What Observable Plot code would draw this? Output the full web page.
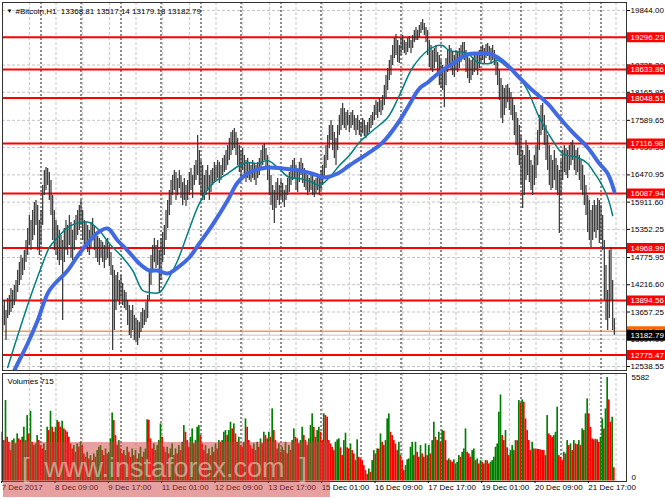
<!DOCTYPE html>
<html><head><meta charset="utf-8">
<script src="https://cdn.jsdelivr.net/npm/d3@7"></script>
<script src="https://cdn.jsdelivr.net/npm/@observablehq/plot@0.6"></script>
<style>
body{margin:0;background:#fff;}
#wrap{position:relative;width:665px;height:499px;overflow:hidden;background:#fff;font-family:"Liberation Sans",Arial,sans-serif;}
#price,#vol{position:absolute;left:0;}
#price{top:0;} #vol{top:371px;}
#band{position:absolute;left:3px;top:442px;width:327px;height:55px;background:rgba(204,61,61,0.49);}
#wm{position:absolute;left:22px;top:455px;font-size:27px;line-height:27px;white-space:pre;color:rgba(236,240,228,0.5);font-family:"Liberation Sans",Arial,sans-serif;}
</style></head>
<body>
<div id="wrap"><div id="price"></div><div id="vol"></div><div id="band"></div><div id="wm">[  www.instaforex.com  ]</div></div>
<script>
// ---- data (hour index 1 = 7 Dec 2017 01:00) ----
const barHigh = [
13790,13893,13688,13934,13996,14139,14098,14201,14304,14509,
14673,14816,14755,14919,15124,15371,15637,15535,15740,15904,
15945,15842,15535,15740,16253,16561,16622,16602,16520,16356,
16048,15740,15535,15432,15330,15227,15124,15371,15535,15432,
15637,15494,15330,15535,15637,15740,15842,15945,15740,15535,
15494,15432,15330,15494,15576,15432,15289,15206,15165,15124,
15083,15022,15124,15165,15022,14878,14612,14509,14406,14468,
14304,14406,14242,14098,14057,13893,13790,13688,13790,13585,
13524,13483,13442,13647,13729,13688,13852,13996,14509,14816,
15022,15165,15022,15124,14919,15165,15289,15432,15740,15945,
16150,16356,16458,16561,16520,16397,16561,16458,16315,16397,
16253,16356,16520,16602,16458,16663,16766,17279,16971,16766,
16663,16458,16561,16663,16458,16561,16602,16725,16663,16766,
16725,16663,16807,16868,16971,17073,17217,17340,17382,17423,
17340,17217,17073,16971,17012,16868,16766,16807,16725,16663,
16766,16704,16663,16725,16807,16971,17073,17114,17012,16868,
16663,16458,16253,16150,16315,16397,16253,16356,16294,16150,
16253,16397,16520,16663,16766,16807,16663,16561,16725,16807,
16704,16602,16520,16458,16397,16520,16458,16356,16397,16458,
16397,16561,16663,16868,17073,17279,17484,17587,17484,17340,
17217,17484,17689,17833,17935,17833,17751,17792,17689,17751,
17792,17689,17628,17689,17587,17546,17628,17587,17484,17546,
17628,17689,17751,17894,17997,17956,18038,17997,18100,18305,
18510,18654,18818,18920,19125,19269,19351,19228,19125,19269,
19331,19228,19187,19269,19310,19228,19331,19434,19495,19434,
19536,19598,19659,19577,19495,19434,19228,19125,19023,19064,
19125,18982,18920,18818,18715,18613,18859,19023,19125,19064,
18982,18920,19023,18982,19064,19125,19187,19187,19023,18920,
18859,18818,18879,18920,18982,18920,19023,19084,19125,19064,
19146,19166,19105,19064,19125,19023,18920,18777,18613,18449,
18305,18243,18305,18326,18243,18161,18038,17894,17751,17628,
17484,17279,16971,16868,17176,17073,16971,16766,16663,16868,
17073,17382,17689,17894,17935,17689,17484,17279,17073,16868,
16766,16971,16807,16663,16561,16766,16971,17073,17012,16971,
17073,17135,17176,17073,16971,17012,16868,16766,16663,16458,
16253,16048,15945,15740,15842,15945,15842,15986,15945,15842,
15637,15124,14612,14098,14919,14981,14304,13517.14];
const barLow = [
13278,13380,13072,13524,13585,13647,13729,13790,13893,14057,
14201,14304,14406,14509,14673,14816,15022,14919,15124,15227,
15432,14919,14816,15022,15432,16048,16150,16253,15945,15637,
15124,14919,14816,14714,14612,14714,13483,14673,14919,14816,
15022,14755,14714,14919,15124,15227,15330,15432,15124,14919,
15022,14878,14816,14960,15124,14919,14755,14673,14612,14755,
14673,14550,14714,14755,14591,14406,12867,13278,13688,13893,
13790,13934,13790,13729,13688,13380,13175,13113,13278,13072,
13031,12970,13113,13237,13319,13380,13442,13524,13893,14201,
14509,14673,14550,14612,14037,14304,14673,14816,15124,15371,
15637,15842,16048,16150,15945,16048,16192,15986,15842,15945,
15822,15945,16048,16150,15986,16253,16356,16458,16253,16048,
15945,15945,16048,16150,15945,16109,16253,16315,16356,16397,
16294,16356,16458,16520,16561,16663,16766,16868,16971,17012,
16868,16663,16520,16356,16561,16397,16315,16397,16356,16315,
16397,16356,16253,16397,16458,16561,16663,16766,16602,16356,
16048,15842,15740,15473,15781,15945,15842,15986,15904,15802,
15945,16048,16109,16253,16356,16397,16150,16109,16315,16458,
16294,16212,16150,16048,16109,16150,16048,16007,16089,16150,
16048,16150,16253,16397,16602,16766,17012,17176,16971,16807,
16663,16971,17279,17382,17484,17423,17382,17484,17340,17423,
17484,17382,17279,17382,17279,17238,17320,17258,17217,17279,
17340,17423,17484,17587,17689,17628,17751,17689,17792,17894,
18038,18202,18408,18510,18715,18859,18920,18777,18756,18920,
19023,18961,18920,18982,19064,18961,19064,19187,19228,19228,
19290,19372,19434,19331,19187,18920,18674,18613,18572,18654,
18777,18510,18305,18243,18202,17853,18305,18572,18715,18613,
18510,18469,18613,18572,18654,18777,18859,18818,18572,18449,
18346,18408,18510,18572,18613,18510,18654,18777,18818,18756,
18859,18900,18818,18736,18818,18715,18510,18305,17997,17628,
17525,17689,17833,17956,17792,17689,17587,17279,17073,16868,
16663,16253,15781,16048,16356,16458,16315,16150,16048,16253,
16397,16663,16971,17279,17382,17073,16766,16561,16253,16150,
16192,16356,16150,16048,15268,16048,16356,16520,16458,16397,
16561,16663,16766,16561,16458,16520,16356,16150,16048,15842,
15637,15289,15124,14981,15124,15289,15165,15330,15063,15124,
14919,13893,13483,13278,13524,13893,13278,13179.18];
const volumes = [
2630,2180,4340,2360,2090,1640,2180,2270,2000,2540,
2270,2180,2360,2900,2180,3530,2540,3760,2090,1910,
2000,2450,2180,1910,1730,2000,1640,2900,2720,3760,
2900,2630,2900,3260,3170,2900,3225,2810,2720,2630,
2360,2000,1730,1910,1550,2000,1820,2090,1910,1460,
1280,1550,1190,1370,1100,1460,1280,1640,1820,1910,
1640,1370,1730,1460,1550,2270,3670,3260,2450,1910,
2180,1730,1460,1640,1370,1820,1550,1280,1730,1370,
1640,1190,1460,1820,1280,1550,1730,3300,3280,2270,
1730,2000,1640,1910,2180,3080,2360,1820,1550,1820,
1460,1730,2000,1370,1730,1460,1910,1640,2090,2990,
2630,2180,1820,2360,2810,2000,2180,2900,2990,2450,
2000,1640,1910,1460,1730,1370,1820,1550,2000,1730,
2180,2090,2180,2630,2720,2450,2720,3170,2810,3080,
2540,2090,2360,1910,1820,2090,3350,2900,2180,1910,
1730,2000,1640,2090,1820,2270,2000,2630,2450,2270,
2630,2360,3890,2720,2180,1730,2000,1550,1820,1640,
2090,1460,1910,1640,2180,2810,2360,2270,2000,2180,
2900,2450,2180,1910,2270,2990,3620,2900,2360,2720,
2900,2630,2180,3620,3530,3440,2180,2000,1820,1640,
2090,2220,2270,1790,1370,2180,2580,1790,1730,2000,
1640,1460,1100,2220,1280,1190,1100,830,560,350,
650,470,1100,1640,1460,1730,1720,2540,2090,1910,
2180,3350,3620,2630,2450,2180,2000,1640,2090,1370,
1100,560,830,1140,1190,1820,2090,1370,2090,1550,
1280,1910,1460,1280,2000,1370,1910,1460,2180,3170,
2360,2180,2630,2090,2720,2690,2180,1100,1190,1100,
1010,1140,920,1010,1370,1280,1550,1730,2810,1550,
1460,1280,1640,1730,1100,1190,920,1100,1010,920,
1100,1090,920,1010,1100,1280,1820,2000,3710,4640,
2450,2180,2720,1790,1370,1640,1910,1640,2180,2170,
4340,4195,4375,4250,3350,2720,2180,1640,2090,1730,
1720,1710,1700,1680,1650,1640,1370,3530,2540,2450,
2360,2450,2630,3980,1370,1280,1100,1550,1460,2180,
1910,2000,1640,2180,2000,1960,2180,1910,2810,2720,
3620,4430,3620,2900,2270,2220,2250,2220,2090,2360,
3350,2810,3890,5582,4375,3170,3440,715];

const fastMAHours  = [4,11,19,25,29,34,40,47,53,59,65,73,79,85,89,95,100,106,112,119,127,136,143,148,154,160,166,173,179,187,191,197,203,209,215,223,232,239,247,256,262,265,269,280,286,293,298,304,310,316,323,331,337,346,352,355,359,364,367];
const fastMAValues = [12518,13278,14098,14652,14981,15186,15391,15494,15494,15330,15063,14776,14509,14098,14057,14057,14304,14714,15268,15883,16294,16499,16663,16725,16704,16766,16622,16417,16397,16315,16253,16417,16663,16868,17135,17382,17648,18100,18674,19023,19125,19125,19023,18961,18777,18756,18818,18674,18510,18202,17648,17176,16909,16827,16704,16561,16356,16007,15637];
const slowMAHours  = [1,8,16,22,29,40,47,55,59,64,70,76,83,89,94,100,106,113,119,127,136,142,149,160,169,179,190,193,202,209,220,229,238,244,251,256,263,271,280,286,293,298,304,311,319,328,335,343,352,359,364,368];
const slowMAValues = [11900,12457,13011,13483,14098,14509,14857,15186,15309,15371,15124,14919,14652,14509,14509,14447,14570,14776,15063,15452,15945,16315,16520,16622,16602,16561,16458,16417,16499,16663,16909,17135,17525,17853,18243,18366,18572,18756,18941,18961,18961,18879,18715,18469,18202,17935,17648,17341,17033,16704,16499,16130];

const levelPrices = [19296.23,18633.86,18048.51,17116.98,16087.94,14968.99,13894.56,12775.47];
const askPrice = 13263.79;
const bidPrice = 13182.79;
const priceGridTicks = [19844.00,19284.65,18725.30,18165.95,17589.65,17030.30,16470.95,15911.60,15352.25,14775.95,14216.60,13657.25,13097.90,12538.55];
const priceTickLabels = [19844.00,18725.30,18165.95,17589.65,17030.30,16470.95,15911.60,15352.25,14775.95,14216.60,13657.25,13097.90,12538.55];
const dateLabels = ["7 Dec 2017","8 Dec 09:00","9 Dec 17:00","11 Dec 01:00","12 Dec 09:00","13 Dec 17:00","15 Dec 01:00","16 Dec 09:00","17 Dec 17:00","19 Dec 01:00","20 Dec 09:00","21 Dec 17:00"];
const dateLabelHours = [1,33,65,97,129,161,193,225,257,289,321,353];
const daySeparatorHours = [24,48,72,96,120,144,168,192,216,240,264,288,312,336,360];
const gridHours = [1,17,33,49,65,81,97,113,129,145,161,177,193,209,225,241,257,273,289,305,321,337,353,369];
const volumeTicks = [5582, 0];
const titleText = "#Bitcoin,H1  13368.81 13517.14 13179.18 13182.79";
const volumeTitle = "Volumes 715";

// ---- build ----
const bars = barHigh.map((hi, i) => ({h: i + 1, hi, lo: barLow[i], v: volumes[i],
  col: (i === 0 || volumes[i] > volumes[i - 1]) ? "#008000" : "#ff0000"}));
const fastMA = fastMAHours.map((h, i) => ({h, p: fastMAValues[i]}));
const slowMA = slowMAHours.map((h, i) => ({h, p: slowMAValues[i]}));
const xDomain = [0.9, 375.3];
const font = "Liberation Sans, Arial, sans-serif";

const price = Plot.plot({
  width: 665, height: 371, marginLeft: 2, marginRight: 39, marginTop: 2, marginBottom: 1,
  x: {domain: xDomain, axis: null},
  y: {domain: [12457, 20008], axis: null},
  style: {fontFamily: font, fontSize: "8px", background: "white", color: "black", overflow: "hidden"},
  marks: [
    Plot.ruleY(priceGridTicks, {stroke: "#c4c4c4", strokeDasharray: "3,2"}),
    Plot.ruleX(gridHours, {stroke: "#c4c4c4", strokeDasharray: "3,2"}),
    Plot.ruleX(daySeparatorHours, {stroke: "#1a1a1a", strokeDasharray: "2,2"}),
    Plot.ruleY(levelPrices, {stroke: "#ff0000", strokeWidth: 2}),
    Plot.ruleY([askPrice], {stroke: "#ff6600"}),
    Plot.ruleY([bidPrice], {stroke: "#c0c0c0"}),
    Plot.ruleX(bars, {x: "h", y1: "lo", y2: "hi", stroke: "#333333", strokeWidth: 1.2}),
    Plot.line(fastMA, {x: "h", y: "p", stroke: "#008080", strokeWidth: 1.5, curve: "catmull-rom", clip: true}),
    Plot.line(slowMA, {x: "h", y: "p", stroke: "#4169e1", strokeWidth: 4, curve: "catmull-rom", clip: true}),
    Plot.frame({stroke: "#333333"}),
    Plot.axisY({anchor: "right", ticks: priceTickLabels, tickFormat: d => d.toFixed(2), tickSize: 3, tickPadding: 1, textAnchor: "start", fill: "black"}),
    Plot.ruleY(levelPrices, {stroke: "#ff0000", strokeWidth: 10, dx: 625}),
    Plot.text(levelPrices, {y: d => d, text: d => d.toFixed(2), frameAnchor: "right", textAnchor: "start", dx: 4, fill: "white"}),
    Plot.ruleY([askPrice], {stroke: "#ff6600", strokeWidth: 10, dx: 625}),
    Plot.text([askPrice], {y: d => d, text: d => d.toFixed(2), frameAnchor: "right", textAnchor: "start", dx: 4, fill: "white"}),
    Plot.ruleY([bidPrice], {stroke: "#000000", strokeWidth: 11, dx: 625}),
    Plot.text([bidPrice], {y: d => d, text: d => d.toFixed(2), frameAnchor: "right", textAnchor: "start", dx: 4, fill: "white"}),
    Plot.text(["\u25BC"], {text: d => d, frameAnchor: "top-left", dx: 4, dy: 6, fontSize: 6, textAnchor: "start", fill: "black"}),
    Plot.text([titleText], {text: d => d, frameAnchor: "top-left", dx: 13, dy: 6, textAnchor: "start", fill: "black"})
  ]
});
document.getElementById("price").appendChild(price);

const vol = Plot.plot({
  width: 665, height: 128, marginLeft: 2, marginRight: 39, marginTop: 2, marginBottom: 18,
  x: {domain: xDomain, axis: null},
  y: {domain: [-27, 5798], axis: null},
  color: {type: "identity"},
  style: {fontFamily: font, fontSize: "8px", background: "white", color: "black", overflow: "hidden"},
  marks: [
    Plot.ruleX(gridHours, {stroke: "#c4c4c4", strokeDasharray: "3,2"}),
    Plot.ruleX(daySeparatorHours, {stroke: "#1a1a1a", strokeDasharray: "2,2"}),
    Plot.rectY(bars, {x1: d => d.h - 0.5, x2: d => d.h + 0.5, y1: 0, y2: "v", fill: "col"}),
    Plot.frame({stroke: "#333333"}),
    Plot.axisX({anchor: "bottom", ticks: dateLabelHours, tickFormat: (d, i) => dateLabels[i], tickSize: 2, tickPadding: 1, textAnchor: "start", dx: -1, fill: "black"}),
    Plot.text([volumeTicks[0]], {y: d => d, text: d => String(d), frameAnchor: "right", textAnchor: "start", dx: 5, fill: "black"}),
    Plot.text([volumeTicks[1]], {y: d => d, text: d => String(d), frameAnchor: "right", textAnchor: "start", dx: 5, dy: -4, fill: "black"}),
    Plot.text([volumeTitle], {text: d => d, frameAnchor: "top-left", dx: 5, dy: 5, textAnchor: "start", fill: "black"})
  ]
});
document.getElementById("vol").appendChild(vol);
</script>
</body></html>
